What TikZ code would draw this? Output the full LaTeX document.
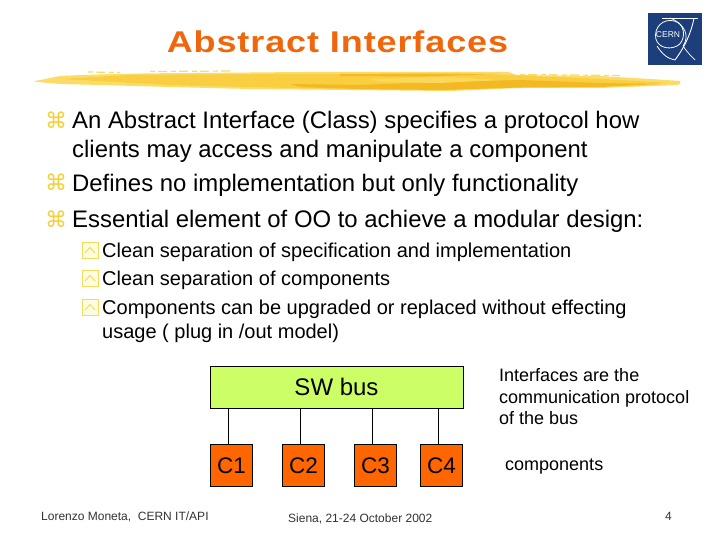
\documentclass[tikz,border=0pt]{standalone}
\usepackage{fontspec}
\setmainfont{Liberation Sans}
\newfontfamily\symfont{DejaVu Sans}
\newfontfamily\titlefont[FakeStretch=1.2,LetterSpace=3]{Liberation Sans Bold}
\definecolor{titleor}{HTML}{F0660C}
\definecolor{bulletyel}{HTML}{F4D038}
\definecolor{busgreen}{HTML}{CCFF66}
\definecolor{compor}{HTML}{FF6600}
\definecolor{cernblue}{HTML}{1C3F7C}
\definecolor{brushA}{HTML}{FBDC66}
\definecolor{brushB}{HTML}{F9CE40}
\definecolor{brushC}{HTML}{F3B822}
\tikzset{
  x=1pt,y=-1pt,
  body/.style={anchor=base west,inner sep=0pt,font=\fontsize{23.9}{28}\selectfont},
  subtext/.style={anchor=base west,inner sep=0pt,font=\fontsize{20}{24}\selectfont},
  note/.style={anchor=base west,inner sep=0pt,font=\fontsize{18}{21}\selectfont},
  foot/.style={anchor=base west,inner sep=0pt,font=\fontsize{12}{14}\selectfont,text=black!80},
  bul/.style={anchor=base west,inner sep=0pt,text=bulletyel,font=\symfont\fontsize{22}{24}\selectfont},
  busbox/.style={draw=black,line width=1pt,fill=busgreen,minimum width=253pt,minimum height=42pt,inner sep=0pt,font=\fontsize{24}{28}\selectfont},
  compbox/.style={draw=black,line width=1pt,fill=compor,minimum width=42pt,minimum height=42pt,inner sep=0pt,font=\fontsize{22.5}{26}\selectfont},
  wire/.style={draw=black,line width=1.8pt},
  speck/.style={draw=brushA,line width=1.2pt,dash pattern=on 5pt off 3pt on 9pt off 4pt},
  subbul/.pic={
    \draw[bulletyel!80!white,line width=1pt,fill=yellow!12] (0,0) rectangle (16,16);
    \draw[bulletyel!80!white,line width=1pt] (3,11) -- (8,5.5) -- (13,11);
  }
}
\begin{document}
\begin{tikzpicture}
\useasboundingbox (0,0) rectangle (720,540);
\fill[white] (0,0) rectangle (720,540);
% title
\node[anchor=base,inner sep=0pt,text=titleor,font=\titlefont\fontsize{30}{34}\selectfont] (title) at (337.5,53) {Abstract Interfaces};
% brush stroke
\fill[brushA,rounded corners=2pt] (33,81.5) -- (60,76) .. controls (100,74) and (160,73) .. (200,73) -- (300,72) -- (510,72) -- (515,75) -- (600,76) -- (650,79) -- (681,81) -- (680,85) -- (600,88) -- (520,88) -- (450,91) -- (350,90) -- (250,89) -- (170,87) -- (100,85) -- (60,84) -- cycle;
\fill[brushB,rounded corners=2pt] (62,79) -- (130,75) -- (300,74) -- (508,75) -- (600,79) -- (670,83) -- (600,86.5) -- (520,87) -- (440,90) -- (340,89) -- (250,87) -- (170,85) -- cycle;
\fill[brushC,rounded corners=2pt] (290,84) -- (360,85) -- (440,82) -- (520,80) -- (600,83) -- (660,84) -- (600,87) -- (520,87.5) -- (440,90) -- (360,89) -- (300,87) -- cycle;
\fill[brushC] (340,74) -- (420,73.5) -- (500,74) -- (420,76.5) -- (340,76) -- cycle;
\fill[brushA!70!brushB] (370,79) -- (450,77) -- (500,80) -- (440,83) -- (380,82) -- cycle;
\draw[speck] (88,72) -- (120,72.5);
\draw[speck] (150,71.5) -- (232,71);
\draw[speck] (520,74.5) -- (620,75.5);
% logo
\fill[cernblue] (648,13) rectangle (702,65);
\draw[white,line width=0.8pt] (678,22.5) .. controls (668,17) and (656,23) .. (655.5,35) .. controls (655,46) and (667,51) .. (677,46) .. controls (685,42) and (686,28) .. (678,22.5);
\draw[white,line width=0.9pt] (662,18) -- (698,18);
\draw[white,line width=0.9pt] (694,18) .. controls (691,34) and (684,48) .. (675,60);
\draw[white,line width=0.7pt] (670,18) .. controls (685,24) and (690,36) .. (683,46) .. controls (687,52) and (691,56) .. (695,60);
\draw[white,line width=0.8pt] (657,46) .. controls (662,54) and (668,59) .. (675,60);
\node[inner sep=0pt,text=white,font=\fontsize{8.5}{9}\selectfont] (cern) at (668,35) {CERN};
% main bullets
\node[bul] (b1) at (45,129) {⌘};
\node[body] (t1) at (72,128.5) {An Abstract Interface (Class) specifies a protocol how};
\node[body] (t1b) at (72,158) {clients may access and manipulate a component};
\node[bul] (b2) at (45,191) {⌘};
\node[body] (t2) at (72,192) {Defines no implementation but only functionality};
\node[bul] (b3) at (45,227) {⌘};
\node[body] (t3) at (72,227) {Essential element of OO to achieve a modular design:};
% sub bullets
\pic at (82,242) {subbul};
\pic at (82,270) {subbul};
\pic at (82,299) {subbul};
\node[subtext] (s1) at (102,257) {Clean separation of specification and implementation};
\node[subtext] (s2) at (102,285) {Clean separation of components};
\node[subtext] (s3) at (102,314) {Components can be upgraded or replaced without effecting};
\node[subtext] (s3b) at (102,338) {usage ( plug in /out model)};
% diagram
\node[busbox] (bus) at (336.5,387) {SW bus};
\node[compbox,anchor=north west] (c1) at (210,444) {C1};
\node[compbox,anchor=north west] (c2) at (282,444) {C2};
\node[compbox,anchor=north west] (c3) at (354,444) {C3};
\node[compbox,anchor=north west] (c4) at (420,444) {C4};
\draw[wire] ([xshift=-3pt]c1.north) -- ([xshift=-3pt]c1.north |- bus.south);
\draw[wire] ([xshift=-3pt]c2.north) -- ([xshift=-3pt]c2.north |- bus.south);
\draw[wire] ([xshift=-3pt]c3.north) -- ([xshift=-3pt]c3.north |- bus.south);
\draw[wire] ([xshift=-3pt]c4.north) -- ([xshift=-3pt]c4.north |- bus.south);
\node[note] (n1) at (499,381) {Interfaces are the};
\node[note] (n2) at (499,403) {communication protocol};
\node[note] (n3) at (499,424) {of the bus};
\node[note] (n4) at (505,470) {components};
% footer
\node[foot] (f1) at (41,520) {Lorenzo Moneta,\ \ CERN IT/API};
\node[foot] (f2) at (288,522) {Siena, 21-24 October 2002};
\node[foot] (f3) at (665,520) {4};
\end{tikzpicture}
\end{document}
